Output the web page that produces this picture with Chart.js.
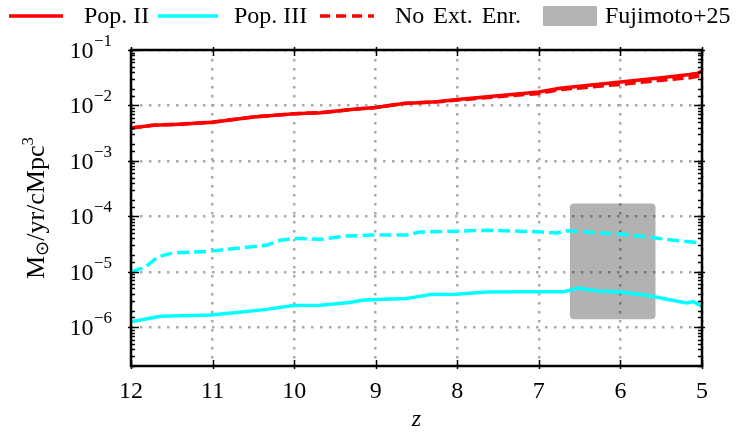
<!DOCTYPE html>
<html>
<head>
<meta charset="utf-8">
<script src="https://cdn.jsdelivr.net/npm/chart.js@4.4.1/dist/chart.umd.min.js"></script>
<style>
  html, body { margin: 0; padding: 0; background: #ffffff; }
  #wrap { position: relative; width: 742px; height: 435px; }
  #c { display: block; }
  #legend { position: absolute; left: 0; top: 0; width: 742px; height: 34px;
            font-family: 'Liberation Serif', 'Times New Roman', serif; font-size: 24px; color: #000; }
  #legend .sw { position: absolute; top: 6px; }
  #legend .lt { position: absolute; top: 2px; line-height: 27px; white-space: nowrap; }
</style>
</head>
<body>
<div id="wrap">
  <canvas id="c" width="742" height="435"></canvas>
  <div id="legend">
    <svg class="sw" style="left:9px" width="54" height="20"><line x1="0" y1="10" x2="54" y2="10" stroke="#ff0000" stroke-width="3.5"/></svg>
    <span class="lt" style="left:84px">Pop. II</span>
    <svg class="sw" style="left:158px" width="60" height="20"><line x1="0" y1="10" x2="60" y2="10" stroke="#00ffff" stroke-width="3.5"/></svg>
    <span class="lt" style="left:234px">Pop. III</span>
    <svg class="sw" style="left:320px" width="54" height="20"><line x1="0" y1="10" x2="54" y2="10" stroke="#ff0000" stroke-width="3.5" stroke-dasharray="10 6"/></svg>
    <span class="lt" style="left:395px; word-spacing:3px">No Ext. Enr.</span>
    <svg class="sw" style="left:543px" width="54" height="20"><rect x="0" y="0" width="54" height="20" rx="1" fill="#b3b3b3"/></svg>
    <span class="lt" style="left:605px">Fujimoto+25</span>
  </div>
</div>
<script>
// Star formation rate density vs redshift
const zPopII        = [12, 11.73, 11.4, 11.0, 10.5, 10.0, 9.68, 9.27, 9.0, 8.66, 8.25, 8.0, 7.5, 7.0, 6.74, 6.0, 5.5, 5.15, 5.05, 5.0];
const sfrdPopII     = [3.9e-3, 4.4e-3, 4.6e-3, 5.0e-3, 6.2e-3, 7.1e-3, 7.4e-3, 8.5e-3, 9.2e-3, 1.08e-2, 1.17e-2, 1.28e-2, 1.5e-2, 1.75e-2, 2.05e-2, 2.65e-2, 3.15e-2, 3.6e-2, 3.8e-2, 4.2e-2];
const sfrdPopIINoExt = [3.9e-3, 4.4e-3, 4.6e-3, 5.0e-3, 6.2e-3, 7.1e-3, 7.4e-3, 8.5e-3, 9.2e-3, 1.08e-2, 1.16e-2, 1.25e-2, 1.44e-2, 1.65e-2, 1.93e-2, 2.4e-2, 2.85e-2, 3.15e-2, 3.35e-2, 3.5e-2];

const zPopIII       = [12, 11.64, 11.03, 10.7, 10.34, 10.01, 9.68, 9.32, 9.15, 8.62, 8.46, 8.33, 8.01, 7.64, 7.23, 6.7, 6.52, 6.29, 6.0, 5.64, 5.43, 5.19, 5.11, 5.0];
const sfrdPopIII    = [1.25e-6, 1.58e-6, 1.67e-6, 1.84e-6, 2.1e-6, 2.46e-6, 2.5e-6, 2.8e-6, 3.1e-6, 3.3e-6, 3.6e-6, 3.9e-6, 3.95e-6, 4.3e-6, 4.35e-6, 4.35e-6, 5.1e-6, 4.5e-6, 4.3e-6, 3.7e-6, 3.2e-6, 2.75e-6, 2.9e-6, 2.4e-6];

const zPopIIINoExt  = [12, 11.83, 11.67, 11.48, 11.03, 10.7, 10.34, 10.17, 10.01, 9.68, 9.36, 9.03, 8.62, 8.46, 8.0, 7.64, 7.23, 7.0, 6.78, 6.66, 6.33, 6.0, 5.64, 5.35, 5.0];
const sfrdPopIIINoExt = [1.0e-5, 1.2e-5, 1.86e-5, 2.2e-5, 2.35e-5, 2.65e-5, 3.0e-5, 3.7e-5, 4.0e-5, 3.85e-5, 4.4e-5, 4.6e-5, 4.6e-5, 5.2e-5, 5.4e-5, 5.6e-5, 5.4e-5, 5.25e-5, 5.0e-5, 5.5e-5, 5.1e-5, 4.8e-5, 4.2e-5, 3.7e-5, 3.3e-5];

// Fujimoto+25 constraint region
const fujimotoZ    = [6.62, 5.57];
const fujimotoSFRD = [1.4e-6, 1.7e-4];

// Axis ticks
const zTicks      = [12, 11, 10, 9, 8, 7, 6, 5];
const decadeExps  = [-1, -2, -3, -4, -5, -6];

const SERIF = "'Liberation Serif', 'Times New Roman', serif";

function pairs(xs, ys) { return xs.map((x, i) => ({ x: x, y: ys[i] })); }
function isDecade(v) {
  const l = Math.log10(v);
  return Math.abs(l - Math.round(l)) < 1e-6;
}

const decorations = {
  id: 'decorations',
  beforeDatasetsDraw(chart) {
    const { ctx, scales: { x, y } } = chart;
    const x0 = x.getPixelForValue(fujimotoZ[0]);
    const x1 = x.getPixelForValue(fujimotoZ[1]);
    const y0 = y.getPixelForValue(fujimotoSFRD[1]);
    const y1 = y.getPixelForValue(fujimotoSFRD[0]);
    ctx.save();
    ctx.fillStyle = 'rgba(0,0,0,0.3)';
    ctx.beginPath();
    ctx.roundRect(Math.min(x0, x1), y0, Math.abs(x1 - x0), y1 - y0, 4);
    ctx.fill();
    ctx.restore();
  },
  afterDraw(chart) {
    const { ctx, chartArea: a, scales: { x, y } } = chart;
    ctx.save();
    // frame
    ctx.strokeStyle = '#000';
    ctx.lineWidth = 2.5;
    ctx.strokeRect(a.left, a.top, a.right - a.left, a.bottom - a.top);

    // log-axis tick marks (inward, both sides)
    ctx.lineWidth = 1.5;
    ctx.beginPath();
    y.ticks.forEach(t => {
      const py = Math.round(y.getPixelForValue(t.value)) + 0.5;
      const major = isDecade(t.value);
      const len = major ? 8 : 4;
      const out = major ? 3 : 0;
      ctx.moveTo(a.left - out, py); ctx.lineTo(a.left + len, py);
      ctx.moveTo(a.right + out, py); ctx.lineTo(a.right - len, py);
    });
    zTicks.forEach(z => {
      const px = Math.round(x.getPixelForValue(z)) + 0.5;
      ctx.moveTo(px, a.bottom + 3); ctx.lineTo(px, a.bottom - 6);
      ctx.moveTo(px, a.top - 3); ctx.lineTo(px, a.top + 6);
    });
    ctx.stroke();

    ctx.fillStyle = '#000';
    // x tick labels
    ctx.font = '24px ' + SERIF;
    ctx.textAlign = 'center';
    ctx.textBaseline = 'alphabetic';
    zTicks.forEach(z => {
      ctx.fillText(String(z), x.getPixelForValue(z), a.bottom + 32);
    });

    // y tick labels 10^n
    decadeExps.forEach(e => {
      const py = y.getPixelForValue(Math.pow(10, e));
      const expStr = '\u2212' + Math.abs(e);
      ctx.font = '17px ' + SERIF;
      const ew = ctx.measureText(expStr).width;
      const ex = a.left - 19 - ew;
      ctx.textAlign = 'left';
      ctx.fillText(expStr, ex, py - 4);
      ctx.font = '24px ' + SERIF;
      ctx.textAlign = 'right';
      ctx.fillText('10', ex - 0.5, py + 8);
    });

    // x axis title
    ctx.font = 'italic 24px ' + SERIF;
    ctx.textAlign = 'center';
    ctx.fillText('z', (a.left + a.right) / 2, a.bottom + 60);

    // y axis title: M_sun / yr / cMpc^3
    const parts = [
      { t: 'M', f: '26px ' + SERIF, dy: 0 },
      { t: '\u2299', f: '18px ' + SERIF, dy: 4 },
      { t: '/yr/cMpc', f: '26px ' + SERIF, dy: 0 },
      { t: '3', f: '17px ' + SERIF, dy: -11 }
    ];
    let total = 0;
    parts.forEach(p => { ctx.font = p.f; p.w = ctx.measureText(p.t).width; total += p.w; });
    ctx.translate(44, (a.top + a.bottom) / 2);
    ctx.rotate(-Math.PI / 2);
    ctx.textAlign = 'left';
    let cx = -total / 2;
    parts.forEach(p => { ctx.font = p.f; ctx.fillText(p.t, cx, p.dy); cx += p.w; });
    ctx.restore();
  }
};

const lineStyle = { borderWidth: 3.5, pointRadius: 0, tension: 0, fill: false };

new Chart(document.getElementById('c'), {
  type: 'line',
  data: {
    datasets: [
      Object.assign({ label: 'No Ext. Enr. (Pop. II)', data: pairs(zPopII, sfrdPopIINoExt), borderColor: '#ff0000', borderDash: [11, 5] }, lineStyle),
      Object.assign({ label: 'Pop. II', data: pairs(zPopII, sfrdPopII), borderColor: '#ff0000' }, lineStyle),
      Object.assign({ label: 'No Ext. Enr. (Pop. III)', data: pairs(zPopIIINoExt, sfrdPopIIINoExt), borderColor: '#00ffff', borderDash: [12, 5] }, lineStyle),
      Object.assign({ label: 'Pop. III', data: pairs(zPopIII, sfrdPopIII), borderColor: '#00ffff' }, lineStyle)
    ]
  },
  options: {
    responsive: false,
    animation: false,
    events: [],
    layout: { padding: { left: 131, top: 50, right: 40, bottom: 69 } },
    plugins: { legend: { display: false }, tooltip: { enabled: false } },
    scales: {
      x: {
        type: 'linear', reverse: true, min: 5, max: 12,
        ticks: { display: false, stepSize: 1 },
        grid: { color: '#aaaaaa', lineWidth: 2.5, drawTicks: false },
        border: { display: false, dash: [2.5, 6.5] }
      },
      y: {
        type: 'logarithmic', min: 2e-7, max: 0.1,
        ticks: { display: false },
        grid: {
          color: c => (c.tick && isDecade(c.tick.value)) ? '#aaaaaa' : 'rgba(0,0,0,0)',
          lineWidth: 2.5, drawTicks: false
        },
        border: { display: false, dash: [2.5, 6.5] }
      }
    }
  },
  plugins: [decorations]
});
</script>
</body>
</html>
